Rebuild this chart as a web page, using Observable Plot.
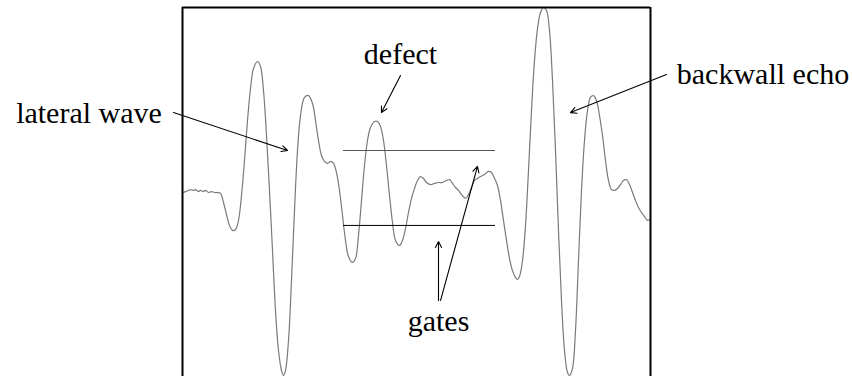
<!DOCTYPE html>
<html><head><meta charset="utf-8">
<script src="https://cdn.jsdelivr.net/npm/d3@7"></script>
<script src="https://cdn.jsdelivr.net/npm/@observablehq/plot@0.6"></script>
<style>body{margin:0;background:#fff} svg{display:block} svg text{font-family:"Liberation Serif","Times New Roman","DejaVu Serif",serif !important}</style>
</head><body><div id="chart"></div>
<script>
// A-scan waveform: time (µs) and normalised amplitude
const time = [0.0,0.3,0.6,0.8,1.1,1.3,1.6,1.8,2.1,2.3,2.6,2.9,3.2,3.5,3.8,
  4.1,4.4,4.7,5.0,5.3,5.6,5.9,6.2,6.5,6.8,7.1,7.5,7.8,8.1,8.4,8.7,9.0,9.3,9.6,9.9,10.1,10.3,10.6,10.9,11.2,11.5,11.8,12.2,12.6,13.0,13.3,13.6,13.9,14.2,14.5,14.8,15.1,15.4,15.7,16.0,16.3,16.6,17.0,17.3,17.6,17.9,18.2,18.5,18.8,19.2,19.5,19.8,20.1,20.4,20.7,21.0,21.3,21.7,22.0,22.3,22.6,22.9,23.2,23.5,23.8,24.1,24.4,24.8,25.2,25.6,26.0,26.4,26.7,27.0,27.3,27.6,27.9,28.3,28.6,28.9,29.2,29.5,29.8,30.2,30.6,30.9,31.2,31.5,31.8,32.1,32.4,32.7,33.0,33.3,33.5,33.7,34.0,34.3,34.6,34.9,35.2,35.5,35.8,36.1,36.4,36.7,37.0,37.3,37.6,37.9,38.2,38.5,38.7,39.0,39.3,39.6,39.9,40.2,40.5,40.8,41.1,41.4,41.7,42.0,42.3,42.6,42.9,43.2,43.5,43.8,44.1,44.4,44.7,45.0,45.3,45.6,45.9,46.2,46.5,46.8];
const amplitude = [0.000,0.005,0.011,0.016,0.011,0.016,0.005,0.011,0.005,0.011,0.000,0.005,0.000,0.000,-0.005,
  -0.054,-0.119,-0.178,-0.205,-0.200,-0.151,-0.016,0.173,0.389,0.562,0.670,0.708,0.681,0.551,0.308,0.011,-0.314,-0.638,-0.854,-0.962,-0.989,-0.962,-0.800,-0.476,-0.097,0.227,0.416,0.514,0.524,0.481,0.389,0.281,0.200,0.168,0.157,0.168,0.157,0.108,0.011,-0.124,-0.259,-0.346,-0.378,-0.357,-0.232,-0.043,0.146,0.281,0.351,0.384,0.384,0.357,0.281,0.146,-0.016,-0.162,-0.259,-0.286,-0.259,-0.195,-0.108,-0.032,0.022,0.065,0.086,0.076,0.054,0.043,0.049,0.054,0.054,0.065,0.070,0.049,0.027,0.011,-0.011,-0.032,-0.011,0.027,0.065,0.076,0.086,0.097,0.114,0.108,0.076,0.038,-0.043,-0.151,-0.259,-0.357,-0.422,-0.459,-0.470,-0.454,-0.368,-0.178,0.119,0.443,0.714,0.886,0.973,1.000,0.984,0.876,0.605,0.227,-0.205,-0.584,-0.854,-0.973,-0.989,-0.951,-0.746,-0.368,0.011,0.281,0.443,0.514,0.524,0.497,0.416,0.308,0.173,0.065,0.016,0.011,0.022,0.043,0.065,0.070,0.043,0.000,-0.043,-0.081,-0.108,-0.130,-0.151,-0.141];

// gates
const gateLevel = [0.227, -0.178];
const gateStart = [16.1, 16.1];
const gateEnd = [31.3, 31.3];
const gateColor = ["#555", "#000"];

// annotations (labels centred on their reference position)
const labelText = ["lateral wave", "defect", "backwall echo", "gates"];
const labelTime = [-9.35, 21.8, 58.05, 25.6];
const labelAmp = [0.373, 0.697, 0.589, -0.746];

const arrowFromT = [-0.9, 21.8, 48.4, 25.6, 25.8];
const arrowFromA = [0.432, 0.632, 0.638, -0.584, -0.584];
const arrowToT = [10.5, 19.9, 38.8, 25.6, 29.5];
const arrowToA = [0.227, 0.432, 0.432, -0.265, 0.141];

const tMin = 0, tMax = 46.8;

const wave = time.map((t, i) => ({t, a: amplitude[i]}));
const gates = gateLevel.map((a, i) => ({a, t1: gateStart[i], t2: gateEnd[i], c: gateColor[i]}));
const labels = labelText.map((text, i) => ({text, t: labelTime[i], a: labelAmp[i]}));
const arrows = arrowFromT.map((t1, i) => ({t1, a1: arrowFromA[i], t2: arrowToT[i], a2: arrowToA[i]}));
const frame = [{t: tMin}, {t: tMax}];

const font = "'Liberation Serif', 'Times New Roman', serif";
const chart = Plot.plot({
  width: 852,
  height: 376,
  marginLeft: 182,
  marginRight: 202,
  marginTop: 7,
  marginBottom: -1,
  x: {domain: [tMin, tMax], axis: null},
  y: {domain: [-1, 1], axis: null},
  style: {fontFamily: font, background: "white"},
  marks: [
    Plot.line(wave, {x: "t", y: "a", stroke: "#7a7a7a", strokeWidth: 1.2, curve: "catmull-rom"}),
    Plot.ruleY(gates, {y: "a", x1: "t1", x2: "t2", stroke: d => d.c, strokeWidth: 1}),
    Plot.ruleX(frame, {x: "t", y1: -1.1, y2: 1, stroke: "black", strokeWidth: 2}),
    Plot.ruleY([1], {x1: tMin, x2: tMax, stroke: "black", strokeWidth: 2}),
    Plot.arrow(arrows, {x1: "t1", y1: "a1", x2: "t2", y2: "a2", stroke: "black", strokeWidth: 1.1, headLength: 9, headAngle: 55}),
    Plot.text(labels, {x: "t", y: "a", text: "text", textAnchor: "middle", lineAnchor: "bottom", fontSize: 30, fill: "black", fontFamily: font})
  ]
});
document.getElementById("chart").appendChild(chart);
</script></body></html>
